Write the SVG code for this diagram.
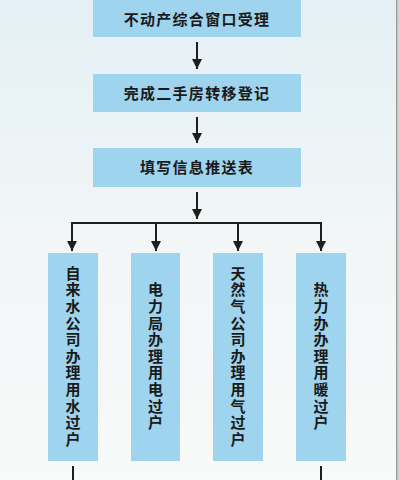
<svg xmlns="http://www.w3.org/2000/svg" width="400" height="480" viewBox="0 0 400 480">
<defs>
<linearGradient id="bg" x1="0" y1="0" x2="0" y2="1">
<stop offset="0" stop-color="#e4f0f5"/>
<stop offset="0.5" stop-color="#f2f6f7"/>
<stop offset="1" stop-color="#f8f9f9"/>
</linearGradient>
<marker id="ah" viewBox="0 0 10 10" refX="10" refY="5" markerWidth="10" markerHeight="10" markerUnits="userSpaceOnUse" orient="auto">
<path d="M0,0 L10,5 L0,10 Z" fill="#1e1e1e"/>
</marker>
<style>
.box{fill:#9fd4ef;}
.t{font-family:"Noto Sans CJK SC","Noto Sans",sans-serif;font-weight:bold;font-size:15px;fill:#1a1a1a;letter-spacing:1.3px;}
.v{font-family:"Noto Sans CJK SC","Noto Sans",sans-serif;font-weight:bold;font-size:15px;fill:#1a1a1a;text-anchor:middle;writing-mode:vertical-rl;letter-spacing:1.6px;}
.ln{stroke:#1e1e1e;stroke-width:2;fill:none;}
.ar{stroke:#1e1e1e;stroke-width:2;fill:none;marker-end:url(#ah);}
</style>
</defs>
<rect x="0" y="0" width="400" height="480" fill="url(#bg)"/>
<rect x="396" y="0" width="4" height="480" fill="#d4d6d6"/>
<rect x="396" y="0" width="1.3" height="480" fill="#9a9c9c"/>

<g id="connectors">
<line class="ar" x1="197" y1="42" x2="197" y2="69"/>
<line class="ar" x1="197" y1="117" x2="197" y2="143"/>
<line class="ar" x1="197" y1="192" x2="197" y2="219"/>
<line class="ln" x1="71" y1="223" x2="322" y2="223"/>
<line class="ar" x1="72" y1="222" x2="72" y2="251"/>
<line class="ar" x1="156" y1="222" x2="156" y2="251"/>
<line class="ar" x1="238" y1="222" x2="238" y2="251"/>
<line class="ar" x1="321" y1="222" x2="321" y2="251"/>
<line class="ln" x1="73" y1="466" x2="73" y2="480"/>
<line class="ln" x1="321" y1="466" x2="321" y2="480"/>
</g>

<g id="n1">
<rect class="box" x="93" y="-2" width="208" height="39"/>
<text class="t" x="197" y="24.5" text-anchor="middle">不动产综合窗口受理</text>
</g>
<g id="n2">
<rect class="box" x="93" y="74" width="208" height="38"/>
<text class="t" x="197" y="98.5" text-anchor="middle">完成二手房转移登记</text>
</g>
<g id="n3">
<rect class="box" x="93" y="148" width="208" height="39"/>
<text class="t" x="197" y="172.5" text-anchor="middle">填写信息推送表</text>
</g>
<g id="n4">
<rect class="box" x="48" y="253" width="50" height="208"/>
<text class="v" x="73" y="357">自来水公司办理用水过户</text>
</g>
<g id="n5">
<rect class="box" x="131" y="253" width="49" height="208"/>
<text class="v" x="155.5" y="357">电力局办理用电过户</text>
</g>
<g id="n6">
<rect class="box" x="213" y="253" width="50" height="208"/>
<text class="v" x="238" y="357">天然气公司办理用气过户</text>
</g>
<g id="n7">
<rect class="box" x="296" y="253" width="50" height="208"/>
<text class="v" x="321" y="357">热力办办理用暖过户</text>
</g>
</svg>
